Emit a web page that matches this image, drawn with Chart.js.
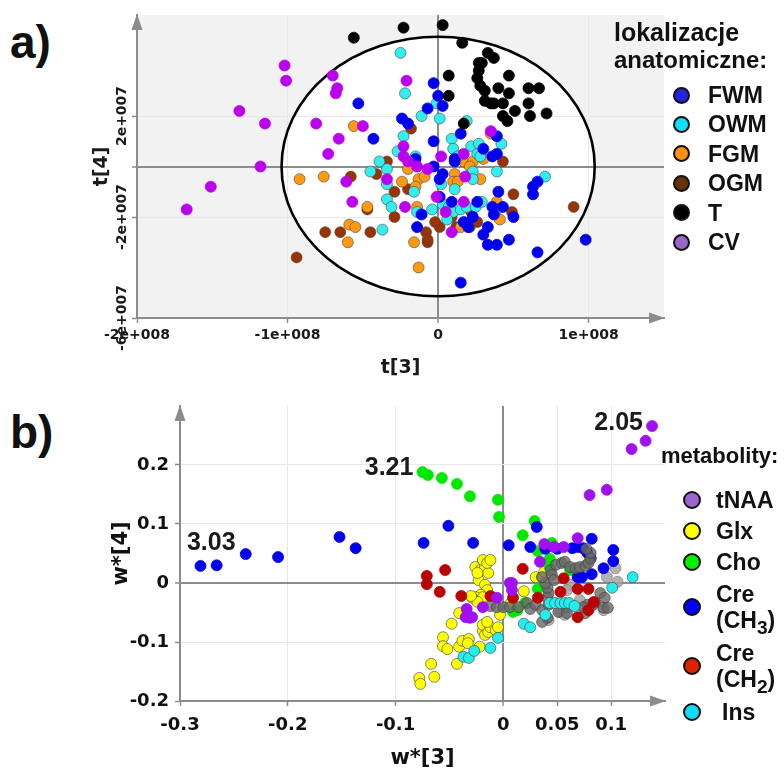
<!DOCTYPE html>
<html>
<head>
<meta charset="utf-8">
<script src="https://cdn.jsdelivr.net/npm/chart.js@4.4.1/dist/chart.umd.min.js"></script>
<style>
  body { margin: 0; background: #fff; width: 784px; height: 769px; position: relative; overflow: hidden;
         font-family: "Liberation Sans", Arial, sans-serif; color: #111; }
  canvas { position: absolute; left: 0; }
  #scores { top: 0; }
  #loadings { top: 385px; }
  .panel { position: absolute; font-weight: bold; font-size: 46px; line-height: 46px; }
  .lg { position: absolute; font-weight: bold; white-space: nowrap; }
  .dot { position: absolute; border: 2px solid #111; border-radius: 50%; box-sizing: border-box; }
</style>
</head>
<body>
<div class="panel" style="left:10px;top:19px">a)</div>
<div class="panel" style="left:10px;top:409px">b)</div>
<canvas id="scores" width="784" height="385"></canvas>
<canvas id="loadings" width="784" height="384"></canvas>
<div id="legendA"></div>
<div id="legendB"></div>
<script>
// ---- a) score plot t[3] / t[4], values in units of 1e7 ----
const xTicksA = [-20, -10, 0, 10];
const xTickLabelsA = ['-2e+008', '-1e+008', '0', '1e+008'];
const yTicksA = [-6, -2, 0, 2];
const yTickLabelsA = ['-6e+007', '-2e+007', '', '2e+007'];
const ellipseRadiiA = [10.4, 5.14];

const regionNames = ['FWM', 'OWM', 'FGM', 'OGM', 'T', 'CV'];
const regionColors = ['#0000ee', '#33eeee', '#ff9a10', '#993300', '#000000', '#bb00f0'];
const regionLegendColors = ['#2424dd', '#10ddf8', '#ff9010', '#663300', '#000000', '#9966cc'];

const fwm = [[-0.3,3.3],[-5.3,2.5],[-0.7,2.3],[-2.4,1.9],[-2.0,1.7],[0.0,2.8],[0.3,2.4],[-4.3,1.1],[-0.3,1.0],
  [1.5,1.3],[3.9,1.2],[1.1,0.3],[3.0,0.7],[3.6,0.4],[3.9,0.5],[1.1,0.2],[-1.5,0.3],[-0.3,0.0],[0.3,-0.3],[0.1,-0.5],
  [-1.1,-1.9],[0.1,-1.2],[0.9,-1.4],[2.6,-1.4],[2.3,-2.0],[1.7,-2.2],[2.0,-2.4],[-1.4,-2.4],[3.3,-2.4],[3.0,-2.7],
  [3.3,-3.1],[3.9,-3.1],[4.7,-2.9],[6.6,-3.4],[1.5,-4.6],[9.8,-2.9],[3.6,-1.6],[3.7,-1.9],[4.0,-1.0],[5.0,-2.0],
  [4.3,-1.6],[6.3,-1.1],[6.3,-0.8],[6.6,-0.6]];
const owm = [[-2.5,4.5],[-2.2,2.9],[-0.1,2.5],[-1.1,2.0],[0.1,1.9],[1.9,1.8],[-2.3,1.2],[-2.7,0.6],[0.9,1.1],
  [4.2,0.9],[1.0,0.7],[2.2,0.8],[2.7,0.9],[2.6,0.5],[2.8,0.4],[1.3,0.4],[2.3,-0.2],[3.9,-0.2],[-1.5,0.4],[-3.9,0.2],
  [-4.5,-0.2],[-3.4,-0.1],[-3.4,-0.7],[-1.6,-1.0],[0.2,-0.7],[1.1,-0.9],[2.3,-0.5],[-3.4,-1.3],[-3.1,-1.6],
  [-1.4,-1.8],[-0.4,-1.7],[0.3,-1.5],[0.7,-1.6],[1.0,-1.8],[1.5,-1.7],[1.9,-1.6],[2.5,-1.6],[2.9,-1.4],[3.9,-1.7],
  [0.6,-2.1],[-3.7,-2.5],[7.1,-0.4]];
const fgm = [[-5.6,1.6],[3.5,1.3],[3.0,0.3],[1.7,0.2],[2.3,0.2],[2.1,0.0],[2.8,-0.5],[-2.0,-0.1],[-2.4,-0.6],
  [-1.3,-0.5],[-0.9,-0.4],[-1.5,-0.8],[1.1,-0.3],[1.0,-0.6],[1.3,-0.6],[-9.2,-0.5],[-7.6,-0.4],[-1.4,-1.6],
  [-4.7,-1.6],[1.5,-2.4],[-1.6,-3.0],[-5.9,-2.3],[-5.5,-2.4],[-6.0,-3.0],[-1.3,-4.0],[3.9,-1.4],[4.1,-2.1]];
const ogm = [[-1.8,1.5],[-3.4,0.2],[4.3,0.2],[-4.1,-0.3],[-5.8,-0.4],[-2.0,-0.9],[-2.9,-1.0],[-4.7,-1.7],
  [-2.9,-2.0],[2.2,-1.8],[0.9,-2.0],[1.2,-2.4],[2.6,-2.2],[2.1,-2.4],[0.1,-2.4],[-0.2,-2.2],[-0.8,-2.6],
  [-0.7,-3.0],[-4.5,-2.6],[-6.5,-2.6],[-7.5,-2.6],[-9.4,-3.6],[5.0,-1.1],[4.9,-1.8],[9.0,-1.6],[-0.7,-2.9]];
const tumour = [[-5.6,5.1],[-2.3,5.5],[0.3,5.6],[1.6,4.9],[0.7,3.6],[0.7,2.8],[3.3,4.5],[3.7,4.3],[2.9,4.1],
  [2.7,4.1],[2.7,3.8],[2.6,3.5],[2.8,3.2],[3.1,3.0],[3.1,2.6],[3.5,2.5],[3.7,2.5],[4.3,2.5],[4.7,3.6],[4.0,3.1],
  [4.7,2.9],[5.1,2.2],[4.3,2.0],[4.6,1.8],[6.0,3.1],[6.7,3.1],[6.0,2.5],[6.1,2.0],[7.2,2.1],[1.7,1.7]];
const cv = [[-10.2,4.0],[-10.1,3.4],[-7.0,3.6],[-6.7,3.1],[-6.8,2.9],[-2.1,3.4],[-13.2,2.2],[-11.5,1.7],
  [-8.1,1.7],[-5.0,1.6],[-6.6,1.1],[-7.3,0.5],[-2.3,0.8],[-11.8,0.0],[-15.1,-0.8],[-16.7,-1.7],[-2.3,0.4],
  [-2.0,0.2],[-1.4,0.0],[-0.7,-0.1],[0.2,0.4],[3.5,1.4],[1.7,0.5],[-6.1,-0.6],[-3.4,-0.5],[-5.7,-1.4],
  [-2.2,-1.6],[-0.1,-1.2],[1.7,-1.4],[0.5,-1.8],[0.9,-2.6],[1.8,-0.4]];
const regionSeries = [fwm, owm, fgm, ogm, tumour, cv];

// ---- b) loading plot w*[3] / w*[4] ----
const xTicksB = [-0.3, -0.2, -0.1, 0, 0.05, 0.1];
const yTicksB = [-0.2, -0.1, 0, 0.1, 0.2];
const peakLabels = ['3.03', '3.21', '2.05'];
const peakAnchors = [[-0.271, 0.068], [-0.106, 0.195], [0.107, 0.271]];

const metaboliteNames = ['tNAA', 'Glx', 'Cho', 'Cre<br>(CH<sub>3</sub>)', 'Cre<br>(CH<sub>2</sub>)', 'Ins'];
const metaboliteColors = ['#a010f0', '#ffff00', '#00e800', '#0000ee', '#bb0000', '#22eeee'];
const metaboliteLegendColors = ['#9966cc', '#ffff00', '#00ee00', '#0000ff', '#dd2200', '#10ddf8'];

const tnaa = [[0.138,0.266],[0.132,0.241],[0.119,0.227],[0.096,0.158],[0.080,0.149],[0.069,0.076],[0.038,0.066],
  [0.047,0.061],[0.056,0.061],[0.034,0.036],[0.006,0.000],[0.008,0.000],[0.008,-0.012],[-0.006,-0.025],
  [-0.019,-0.041],[-0.029,-0.058],[-0.034,-0.044],[-0.035,-0.058],[-0.031,-0.059]];
const glx = [[-0.026,0.027],[-0.021,0.022],[-0.017,0.027],[-0.014,0.017],[-0.023,0.005],[-0.017,-0.003],
  [-0.015,-0.012],[-0.021,-0.020],[-0.026,-0.024],[-0.019,-0.024],[-0.029,-0.025],[-0.024,-0.032],[-0.019,0.039],
  [-0.015,0.034],[-0.012,0.039],[-0.024,0.017],[-0.030,-0.022],[-0.041,-0.051],[-0.048,-0.069],[-0.056,-0.092],
  [-0.056,-0.107],[-0.052,-0.112],[-0.041,-0.108],[-0.038,-0.098],[-0.032,-0.095],[-0.033,-0.102],[-0.022,-0.108],
  [-0.043,-0.137],[-0.067,-0.137],[-0.064,-0.159],[-0.078,-0.161],[-0.077,-0.171],[-0.019,-0.081],[-0.019,-0.071],
  [-0.017,-0.088],[-0.014,-0.083],[-0.012,-0.075],[-0.007,-0.080],[-0.005,-0.075],[-0.015,-0.066],[0.030,0.010],
  [0.036,0.010],[0.038,0.019],[0.019,-0.014],[0.007,-0.034],[-0.003,-0.054]];
const cho = [[-0.075,0.188],[-0.070,0.183],[-0.057,0.178],[-0.043,0.168],[-0.031,0.147],[-0.005,0.141],
  [-0.004,0.112],[0.029,0.105],[0.018,0.081],[0.045,0.068],[0.032,0.054],[0.043,0.041],[0.043,0.027],
  [0.032,-0.010],[0.020,-0.034],[0.009,-0.049],[0.013,-0.046],[0.062,0.022]];
const creCH3 = [[-0.281,0.029],[-0.266,0.030],[-0.239,0.049],[-0.209,0.044],[-0.152,0.078],[-0.137,0.059],
  [-0.074,0.068],[-0.051,0.097],[-0.028,0.068],[0.031,0.095],[0.005,0.064],[0.025,0.061],[0.039,0.058],
  [0.050,0.058],[0.064,0.059],[0.069,0.061],[0.074,0.059],[0.082,0.075],[0.078,0.051],[0.081,0.042],
  [0.102,0.056],[0.102,0.037],[0.069,0.010],[0.073,0.010],[0.082,0.015],[0.093,0.025]];
const creCH2 = [[-0.071,0.012],[-0.071,-0.002],[-0.054,0.022],[-0.059,-0.015],[-0.039,-0.022],[0.018,0.024],
  [-0.012,-0.022],[0.009,-0.025],[0.032,-0.025],[0.053,-0.015],[0.056,0.008],[0.069,-0.010],[0.079,-0.010],
  [0.084,-0.032],[0.069,-0.058],[0.079,-0.046]];
const ins = [[0.120,0.010],[0.101,-0.008],[0.043,-0.034],[0.048,-0.034],[0.053,-0.034],[0.057,-0.034],
  [0.061,-0.034],[0.066,-0.039],[0.039,-0.054],[0.019,-0.069],[0.025,-0.075],[-0.005,-0.093],[-0.012,-0.110],
  [-0.037,-0.125],[-0.032,-0.127],[-0.027,-0.115]];
const metaboliteSeries = [tnaa, glx, cho, creCH3, creCH2, ins];
// spectral points without an assigned metabolite
const unassignedDark = [[-0.012,-0.039],[-0.006,-0.041],[0.000,-0.041],[0.006,-0.041],[0.014,-0.041],[0.022,-0.034],
  [0.025,-0.044],[0.030,-0.037],[0.036,-0.046],[0.041,-0.059],[0.036,-0.066],[0.042,-0.037],[0.041,-0.025],
  [0.042,-0.017],[0.041,-0.008],[0.039,0.000],[0.036,0.010],[0.044,0.022],[0.049,0.031],[0.054,0.034],
  [0.057,0.036],[0.062,0.027],[0.067,0.025],[0.071,0.027],[0.076,0.029],[0.079,0.034],[0.081,0.041],
  [0.081,0.051],[0.077,0.058],[0.045,0.014],[0.047,0.005],[0.051,-0.049],[0.059,-0.041],[0.059,-0.051],
  [0.076,-0.051],[0.078,-0.037],[0.085,-0.034],[0.090,-0.017],[0.094,-0.025],[0.093,-0.042],[0.097,-0.042],
  [0.074,-0.041],[0.083,-0.037]];
const unassignedLight = [[0.096,0.010],[0.104,0.025],[0.106,0.002],[0.062,-0.003],[0.053,-0.049],[0.042,-0.063],
  [0.059,-0.012],[0.093,-0.046],[0.078,-0.046],[0.071,-0.029],[0.057,-0.054]];

const pts = arr => arr.map(([x, y]) => ({x, y}));
const labelFor = (ticks, labels, v) => { const i = ticks.indexOf(v); return i < 0 ? '' : labels[i]; };

function ellipsePath(ctx, x, y, r) {
  const cx = x.getPixelForValue(0), cy = y.getPixelForValue(0);
  const rx = Math.abs(x.getPixelForValue(r[0]) - cx);
  const ry = Math.abs(y.getPixelForValue(r[1]) - cy);
  ctx.beginPath();
  ctx.ellipse(cx, cy, rx, ry, 0, 0, Math.PI * 2);
}

// background, confidence ellipse, axis arrows and free text
const decor = {
  id: 'decor',
  beforeDraw(chart, _a, o) {
    const {ctx, chartArea: ca, scales: {x, y}} = chart;
    ctx.save();
    if (o.background) {
      ctx.fillStyle = o.background;
      ctx.fillRect(ca.left, ca.top, ca.width, ca.height);
    }
    if (o.ellipse) {
      ellipsePath(ctx, x, y, o.ellipse);
      ctx.fillStyle = '#fff';
      ctx.fill();
    }
    ctx.restore();
  },
  beforeDatasetsDraw(chart, _a, o) {
    if (!o.ellipse) return;
    const {ctx, scales: {x, y}} = chart;
    ctx.save();
    ellipsePath(ctx, x, y, o.ellipse);
    ctx.lineWidth = 2.6;
    ctx.strokeStyle = '#000';
    ctx.stroke();
    ctx.restore();
  },
  afterDraw(chart, _a, o) {
    const {ctx, chartArea: ca, scales: {x, y}} = chart;
    ctx.save();
    ctx.fillStyle = '#8c8c8c';
    ctx.beginPath();
    ctx.moveTo(ca.right + 1, ca.bottom);
    ctx.lineTo(ca.right - 15, ca.bottom - 5.5);
    ctx.lineTo(ca.right - 15, ca.bottom + 5.5);
    ctx.fill();
    ctx.beginPath();
    ctx.moveTo(ca.left, ca.top - 1);
    ctx.lineTo(ca.left - 5.5, ca.top + 15);
    ctx.lineTo(ca.left + 5.5, ca.top + 15);
    ctx.fill();
    ctx.fillStyle = '#1a1a1a';
    if (o.yLabels) {
      ctx.font = 'bold 14px "DejaVu Sans"';
      ctx.textAlign = 'center';
      ctx.textBaseline = 'middle';
      o.yLabels.values.forEach((v, i) => {
        ctx.save();
        ctx.translate(o.yLabels.x, y.getPixelForValue(v));
        ctx.rotate(-Math.PI / 2);
        ctx.fillText(o.yLabels.labels[i], 0, 0);
        ctx.restore();
      });
    }
    if (o.notes) {
      ctx.font = 'bold 25px "Liberation Sans", Arial';
      ctx.textAlign = 'center';
      ctx.textBaseline = 'middle';
      o.notes.labels.forEach((t, i) => {
        const [vx, vy] = o.notes.at[i];
        ctx.fillText(t, x.getPixelForValue(vx), y.getPixelForValue(vy));
      });
    }
    ctx.restore();
  }
};

const gridStyle = {
  color: c => c.tick.value === 0 ? '#8c8c8c' : (c.tick.value === c.scale.min ? 'rgba(0,0,0,0)' : '#e8e8e8'),
  lineWidth: c => c.tick.value === 0 ? 2 : 1,
  tickColor: '#8c8c8c',
  tickWidth: 1.5,
  tickLength: 5
};
const borderStyle = {color: '#8c8c8c', width: 2, z: 1};
const titleFont = size => ({family: 'DejaVu Sans', weight: 'bold', size, lineHeight: 1});

Chart.defaults.font.family = '"DejaVu Sans", sans-serif';

new Chart(document.getElementById('scores'), {
  type: 'scatter',
  data: {
    datasets: regionSeries.map((s, i) => ({
      label: regionNames[i],
      data: pts(s),
      backgroundColor: regionColors[i],
      borderColor: [1, 2, 3].includes(i) ? 'rgba(70,70,70,0.75)' : regionColors[i],
      borderWidth: 0.8,
      pointRadius: 5.5,
      order: [2, 3, 4, 5, 0, 1][i]
    }))
  },
  options: {
    responsive: false,
    animation: false,
    devicePixelRatio: 1,
    layout: {padding: {left: 0, top: 15, right: 120, bottom: 0}},
    plugins: {
      legend: {display: false},
      tooltip: {enabled: false},
      decor: {
        background: '#f2f2f2',
        ellipse: ellipseRadiiA,
        yLabels: {values: yTicksA, labels: yTickLabelsA, x: 122}
      }
    },
    scales: {
      x: {
        type: 'linear', min: -20, max: 15,
        afterBuildTicks: s => { s.ticks = xTicksA.map(value => ({value})); },
        afterFit: s => { s.height = 67; },
        ticks: {
          callback: v => labelFor(xTicksA, xTickLabelsA, v),
          autoSkip: false, maxRotation: 0, padding: 4,
          font: {family: 'DejaVu Sans', weight: 'bold', size: 14}, color: '#1a1a1a'
        },
        grid: gridStyle,
        border: borderStyle,
        title: {display: true, text: 't[3]', font: titleFont(19), color: '#1a1a1a', padding: {top: 0, bottom: 7}}
      },
      y: {
        type: 'linear', min: -6, max: 6,
        afterBuildTicks: s => { s.ticks = yTicksA.map(value => ({value})); },
        afterFit: s => { s.width = 137; },
        ticks: {display: false},
        grid: gridStyle,
        border: borderStyle,
        title: {display: true, text: 't[4]', font: titleFont(19), color: '#1a1a1a', padding: {top: 93, bottom: 0}}
      }
    }
  },
  plugins: [decor]
});

const loadingSets = metaboliteSeries.map((s, i) => ({
  label: metaboliteNames[i],
  data: pts(s),
  backgroundColor: metaboliteColors[i],
  borderColor: [1, 5].includes(i) ? 'rgba(70,70,70,0.8)' : metaboliteColors[i],
  borderWidth: 0.8,
  pointRadius: 5.5,
  order: [0, 7, 5, 4, 2, 1][i]
}));
loadingSets.push({
  label: 'unassigned',
  data: pts(unassignedDark),
  backgroundColor: 'rgba(105,105,105,0.8)',
  borderColor: 'rgba(60,60,60,0.8)',
  borderWidth: 0.8,
  pointRadius: 5.5,
  order: 3
}, {
  label: 'unassigned (weak)',
  data: pts(unassignedLight),
  backgroundColor: 'rgba(165,165,165,0.85)',
  borderColor: 'rgba(120,120,120,0.8)',
  borderWidth: 0.8,
  pointRadius: 5.5,
  order: 6
});

new Chart(document.getElementById('loadings'), {
  type: 'scatter',
  data: {datasets: loadingSets},
  options: {
    responsive: false,
    animation: false,
    devicePixelRatio: 1,
    layout: {padding: {left: 0, top: 21, right: 119, bottom: 0}},
    plugins: {
      legend: {display: false},
      tooltip: {enabled: false},
      decor: {notes: {labels: peakLabels, at: peakAnchors}}
    },
    scales: {
      x: {
        type: 'linear', min: -0.3, max: 0.15,
        afterBuildTicks: s => { s.ticks = xTicksB.map(value => ({value})); },
        afterFit: s => { s.height = 68; },
        ticks: {
          callback: v => String(v),
          autoSkip: false, maxRotation: 0, padding: 9,
          font: {family: 'DejaVu Sans', weight: 'bold', size: 18}, color: '#111'
        },
        grid: gridStyle,
        border: borderStyle,
        title: {display: true, text: 'w*[3]', font: titleFont(21), color: '#111', padding: {top: 0, bottom: 0}}
      },
      y: {
        type: 'linear', min: -0.2, max: 0.3,
        afterBuildTicks: s => { s.ticks = yTicksB.map(value => ({value})); },
        afterFit: s => { s.width = 180; },
        ticks: {
          callback: v => String(v),
          autoSkip: false, padding: 6,
          font: {family: 'DejaVu Sans', weight: 'bold', size: 18}, color: '#111'
        },
        grid: gridStyle,
        border: borderStyle,
        title: {display: true, text: 'w*[4]', font: titleFont(21), color: '#111', padding: {top: 111, bottom: 0}}
      }
    }
  },
  plugins: [decor]
});

// HTML legends
function legendRow(parent, html, color, cx, cy, textX, d) {
  const dot = document.createElement('div');
  dot.className = 'dot';
  dot.style.cssText = `left:${cx - d / 2}px;top:${cy - d / 2}px;width:${d}px;height:${d}px;background:${color}`;
  parent.appendChild(dot);
  const lines = html.split('<br>').length;
  const t = document.createElement('div');
  t.className = 'lg';
  t.style.cssText = `left:${textX}px;top:${cy - lines * 13}px;font-size:23px;line-height:26px`;
  t.innerHTML = html;
  parent.appendChild(t);
}
function legendTitle(parent, text, left, cy, size) {
  const t = document.createElement('div');
  t.className = 'lg';
  t.style.cssText = `left:${left}px;top:${cy - 15}px;font-size:${size}px;line-height:30px`;
  t.textContent = text;
  parent.appendChild(t);
}

const legA = document.getElementById('legendA');
legendTitle(legA, 'lokalizacje', 614, 32, 25);
legendTitle(legA, 'anatomiczne:', 614, 60, 24);
regionNames.forEach((n, i) => legendRow(legA, n, regionLegendColors[i], 681, 95 + i * 29.4, 708, 17));

const legB = document.getElementById('legendB');
legendTitle(legB, 'metabolity:', 661, 456, 22);
const rowY = [500, 531, 562, 607, 666, 712];
metaboliteNames.forEach((n, i) => legendRow(legB, n, metaboliteLegendColors[i], 692, rowY[i], i === 5 ? 722 : 716, 18));
</script>
</body>
</html>
